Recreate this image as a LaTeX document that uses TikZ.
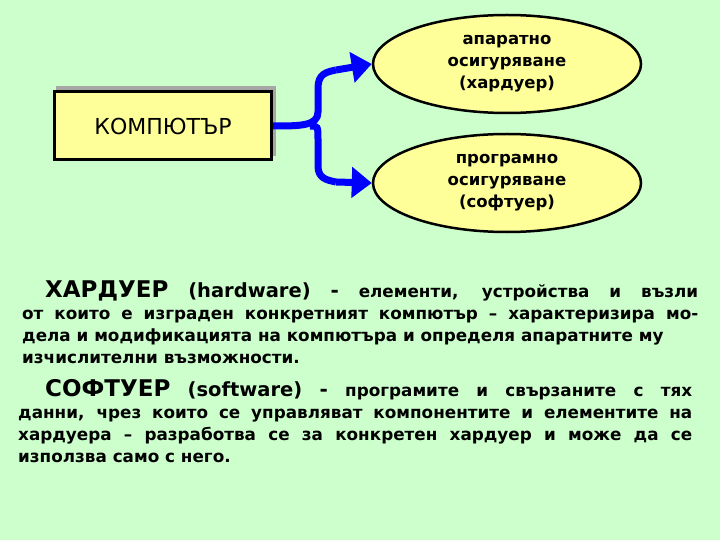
\documentclass[tikz,border=0pt]{standalone}
\usepackage{fontspec}
\setmainfont{DejaVu Sans}
\usetikzlibrary{shapes.geometric,arrows.meta}
\definecolor{bg}{HTML}{CCFFCC}
\definecolor{fillY}{HTML}{FFFF99}
\definecolor{arr}{HTML}{0000FF}
\tikzset{ell/.style={ellipse,draw,line width=2.5pt,fill=fillY,minimum width=268pt,minimum height=98pt,inner sep=0pt,align=center,font=\bfseries\fontsize{16.5}{22}\selectfont},
conn/.style={arr,line width=7pt,-{Triangle[length=20pt,width=30pt]}},
txt/.style={anchor=north west,inner sep=0pt,align=justify,font=\bfseries\fontsize{16.8}{22}\selectfont}}
\begin{document}
\begin{tikzpicture}[x=1pt,y=-1pt]
\fill[bg] (0,0) rectangle (720,540);
\useasboundingbox (0,0) rectangle (720,540);
\fill[gray!70] (56,86) rectangle (276,156);
\node[draw,line width=3pt,fill=fillY,minimum width=217pt,minimum height=68pt,font=\fontsize{22}{24}\selectfont] (k) at (163,126) {КОМПЮТЪР};
\node[ell] (h) at (507,64) {апаратно\\осигуряване\\(хардуер)};
\node[ell] (s) at (507,183) {програмно\\осигуряване\\(софтуер)};
\draw[arr,line width=7pt] (k.east) .. controls (300,126) and (318,126) .. (318,112) -- (318,88) .. controls (318,74) and (326,72) .. (336,70);
\draw[conn] (336,70) -- (h.west);
\draw[arr,line width=7pt] (310,126) .. controls (318,126) .. (318,140) -- (318,166) .. controls (318,178) and (326,180) .. (336,182);
\draw[conn] (336,182) -- (s.west);
\node[txt,text width=676pt] (t1) at (22,281) {\hspace*{23pt}{\fontsize{23}{22}\selectfont ХАРДУЕР} {\fontsize{19.5}{22}\selectfont (hardware)} {\fontsize{20}{22}\selectfont -} елементи, устройства и възли\linebreak
от които е изграден конкретният компютър – характеризира мо-\linebreak дела и модификацията на компютъра и определя апаратните му\\ изчислителни възможности.};
\node[txt,text width=674pt] (t2) at (18,379) {\hspace*{27pt}{\fontsize{23}{22}\selectfont СОФТУЕР} {\fontsize{19.5}{22}\selectfont (software)} {\fontsize{20}{22}\selectfont -} програмите и свързаните с тях\linebreak
данни, чрез които се управляват компонентите и елементите на\linebreak хардуера – разработва се за конкретен хардуер и може да се\linebreak използва само с него.};
\end{tikzpicture}
\end{document}
